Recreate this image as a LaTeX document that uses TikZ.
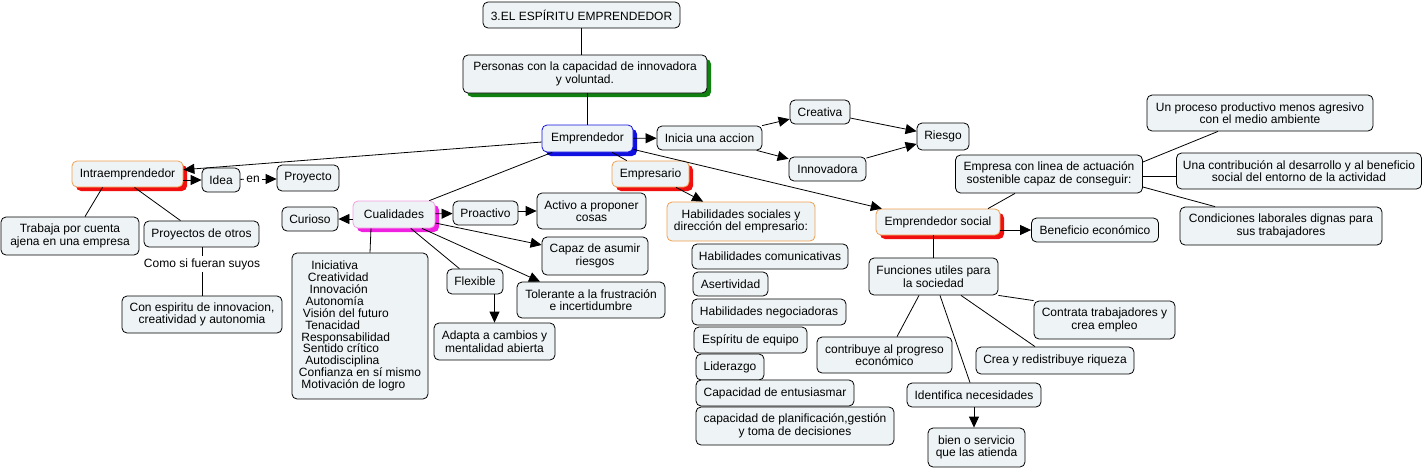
\documentclass[tikz,border=0pt]{standalone}
\usepackage{fontspec}
\setmainfont{Liberation Sans}
\usetikzlibrary{arrows.meta,shadows,calc}
\definecolor{boxfill}{HTML}{EEF3F5}
\definecolor{borange}{HTML}{F0A050}
\definecolor{bblue}{HTML}{1010E0}
\definecolor{bpink}{HTML}{F0A0E0}
\definecolor{shmag}{HTML}{F020E0}
\definecolor{shred}{HTML}{F01010}
\definecolor{shgreen}{HTML}{108010}
\newcommand{\fs}{\fontsize{12}{12.5}\selectfont}
\begin{document}
\begin{tikzpicture}[x=1pt,y=-1pt,
  line width=0.8pt,
  box/.style={draw=black, fill=boxfill, rounded corners=5pt, line width=0.8pt, font=\fs, align=center, inner xsep=6pt, inner ysep=4pt},
  sz/.style 2 args={minimum width=#1pt, minimum height=#2pt},
  lbl/.style={font=\fs, inner sep=2pt},
  redsh/.style={drop shadow={shadow xshift=4pt, shadow yshift=-4pt, fill=shred, opacity=1}},
  greensh/.style={drop shadow={shadow xshift=4pt, shadow yshift=-4pt, fill=shgreen, opacity=1}},
  bluesh/.style={drop shadow={shadow xshift=4pt, shadow yshift=-4pt, fill=bblue, opacity=1}},
  magsh/.style={drop shadow={shadow xshift=4pt, shadow yshift=-4pt, fill=shmag, opacity=1}},
  arr/.style={-{Triangle[length=11pt,width=10pt]}}
]
\useasboundingbox (0,0) rectangle (1425,469);

% top
\node[box, sz={197}{26}] (title) at (581.5,15) {3.EL ESPÍRITU EMPRENDEDOR};
\node[box, sz={244}{38}, greensh] (personas) at (585,74) {Personas con la capacidad de innovadora\\ y voluntad.};
\node[box, sz={91}{27}, draw=bblue, bluesh] (emp) at (587.5,138.5) {Emprendedor};
\node[box, sz={105}{24}] (inicia) at (709.5,138) {Inicia una accion};
\node[box, sz={60}{24}] (creativa) at (820,112) {Creativa};
\node[box, sz={77}{24}] (innov) at (827.5,169) {Innovadora};
\node[box, sz={52}{27}] (riesgo) at (943,136.5) {Riesgo};

% left branch
\node[box, sz={111}{26}, draw=borange, redsh] (intra) at (127.5,174) {Intraemprendedor};
\node[box, sz={38}{24}] (idea) at (221,180) {Idea};
\node[box, sz={62}{26}] (proyecto) at (308,178) {Proyecto};
\node[lbl] (en) at (253,179) {en};
\node[box, sz={138}{38}] (trabaja) at (70,236) {Trabaja por cuenta\\ ajena en una empresa};
\node[box, sz={115}{26}] (potros) at (201.5,234) {Proyectos de otros};
\node[lbl] (como) at (202,264) {Como si fueran suyos};
\node[box, sz={160}{37}] (conesp) at (202,314.5) {Con espiritu de innovacion,\\creatividad y autonomia};

% cualidades
\node[box, sz={56}{24}] (curioso) at (310,219) {Curioso};
\node[box, sz={82}{27}, draw=bpink, magsh] (cualid) at (394,214.5) {Cualidades};
\node[box, sz={65}{24}] (proact) at (485.5,213) {Proactivo};
\node[box, sz={109}{36}] (activo) at (591.5,211) {Activo a proponer\\cosas};
\node[box, sz={106}{38}] (capaz) at (595,256) {Capaz de asumir\\riesgos};
\node[box, sz={148}{36}] (tolerante) at (591,300) {Tolerante a la frustración\\e incertidumbre};
\node[box, sz={56}{25}] (flexible) at (475,281.5) {Flexible};
\node[box, sz={121}{37}] (adapta) at (494.5,341.5) {Adapta a cambios y\\mentalidad abierta};
\node[box, sz={136}{146}, align=left, font=\fontsize{12}{11.9}\selectfont] (lista) at (360,326) {%
\hspace{12.4pt}Iniciativa\\
\hspace{9pt}Creatividad\\
\hspace{10.7pt}Innovación\\
\hspace{6.7pt}Autonomía\\
\hspace{4pt}Visión del futuro\\
\hspace{6.4pt}Tenacidad\\
\hspace{2.4pt}Responsabilidad\\
\hspace{4pt}Sentido crítico\\
\hspace{6.4pt}Autodisciplina\\
Confianza en sí mismo\\
\hspace{2.4pt}Motivación de logro};

% empresario
\node[box, sz={77}{26}, draw=borange, redsh] (empresario) at (650.5,174) {Empresario};
\node[box, sz={148}{39}, draw=borange] (habsoc) at (741,221.5) {Habilidades sociales y\\dirección del empresario:};
\node[box, sz={156}{25}] (hcom) at (770,256.5) {Habilidades comunicativas};
\node[box, sz={75}{24}] (aser) at (730.5,284) {Asertividad};
\node[box, sz={154}{26}] (hneg) at (769,312) {Habilidades negociadoras};
\node[box, sz={113}{26}] (eequipo) at (750.5,340) {Espíritu de equipo};
\node[box, sz={68}{26}] (lider) at (730,367) {Liderazgo};
\node[box, sz={158}{26}] (centus) at (775,393) {Capacidad de entusiasmar};
\node[box, sz={198}{38}] (cplan) at (795,426) {capacidad de planificación,gestión\\y toma de decisiones};

% emprendedor social
\node[box, sz={124}{26}, draw=borange, redsh] (esocial) at (938,222) {Emprendedor social};
\node[box, sz={127}{24}] (benef) at (1095,230) {Beneficio económico};
\node[box, sz={187}{38}] (empresa) at (1049,174) {Empresa con linea de actuación\\sostenible capaz de conseguir:};
\node[box, sz={226}{36}] (proceso) at (1260,113) {Un proceso productivo menos agresivo\\con el medio ambiente};
\node[box, sz={245}{36}] (contrib) at (1299,171) {Una contribución al desarrollo y al beneficio\\social del entorno de la actividad};
\node[box, sz={202}{38}] (condic) at (1281,226) {Condiciones laborales dignas para\\sus trabajadores};
\node[box, sz={129}{37}] (funciones) at (933.5,276.5) {Funciones utiles para\\la sociedad};
\node[box, sz={141}{38}] (contrata) at (1104.5,320) {Contrata trabajadores y\\crea empleo};
\node[box, sz={135}{36}] (contribuye) at (884.5,355) {contribuye al progreso\\económico};
\node[box, sz={158}{27}] (crea) at (1055,360.5) {Crea y redistribuye riqueza};
\node[box, sz={134}{24}] (identifica) at (974,395) {Identifica necesidades};
\node[box, sz={97}{39}] (bien) at (976.5,447.5) {bien o servicio\\que las atienda};

% connectors
\draw (title.south) -- (title.south |- personas.north);
\draw (personas.south -| emp.north) -- (emp.north);
\draw[arr] (emp) -- (intra);
\draw[arr] (emp) -- (inicia);
\draw[arr] (inicia) -- (creativa);
\draw[arr] (inicia) -- (innov);
\draw[arr] (creativa) -- (riesgo);
\draw[arr] (innov) -- (riesgo);
\draw (emp) -- (cualid);
\draw (emp) -- (empresario);
\draw[arr] (emp) -- (esocial);

\draw[arr] (intra.east |- idea.west) -- (idea.west);
\draw (idea) -- (en);
\draw[arr] (en) -- (proyecto.west |- en);
\draw ([xshift=-25pt]intra.south) -- ([xshift=15pt]trabaja.north);
\draw ([xshift=7pt]intra.south) -- ([xshift=-21pt]potros.north);
\draw (potros.south -| como.north) -- (como.north);
\draw (como.south) -- (como.south |- conesp.north);

\draw[arr] (cualid.west |- curioso.east) -- (curioso.east);
\draw[arr] (cualid) -- (proact);
\draw[arr] (proact.east |- activo.west) -- (activo.west);
\draw[arr] (cualid) -- (capaz);
\draw[arr] ([xshift=28pt]cualid.south) -- ([xshift=-51pt]tolerante.north);
\draw (cualid) -- (flexible);
\draw[arr] (flexible.south -| adapta.north) -- (adapta.north);
\draw ([xshift=-23pt]cualid.south) -- ([xshift=10pt]lista.north);

\draw[arr] (empresario) -- (habsoc);

\draw[arr] (esocial.east |- benef.west) -- (benef.west);
\draw ([xshift=50pt]esocial.north) -- ([xshift=-34pt]empresa.south);
\draw ([yshift=12pt]empresa.east) -- ([xshift=-42pt]proceso.south);
\draw ([yshift=-2pt]empresa.east) -- ([yshift=-5pt]contrib.west);
\draw ([yshift=-13pt]empresa.east) -- ([xshift=-66pt]condic.north);
\draw (esocial.south -| funciones.north) -- (funciones.north);
\draw (funciones.south east) -- (contrata.north west);
\draw ([xshift=-14.5pt]funciones.south) -- ([xshift=12.5pt]contribuye.north);
\draw ([xshift=6.5pt]funciones.south) -- ([xshift=-4pt]identifica.north);
\draw ([xshift=27.5pt]funciones.south) -- ([xshift=-20pt]crea.north);
\draw[arr] (identifica.south) -- (identifica.south |- bien.north);
\end{tikzpicture}
\end{document}
